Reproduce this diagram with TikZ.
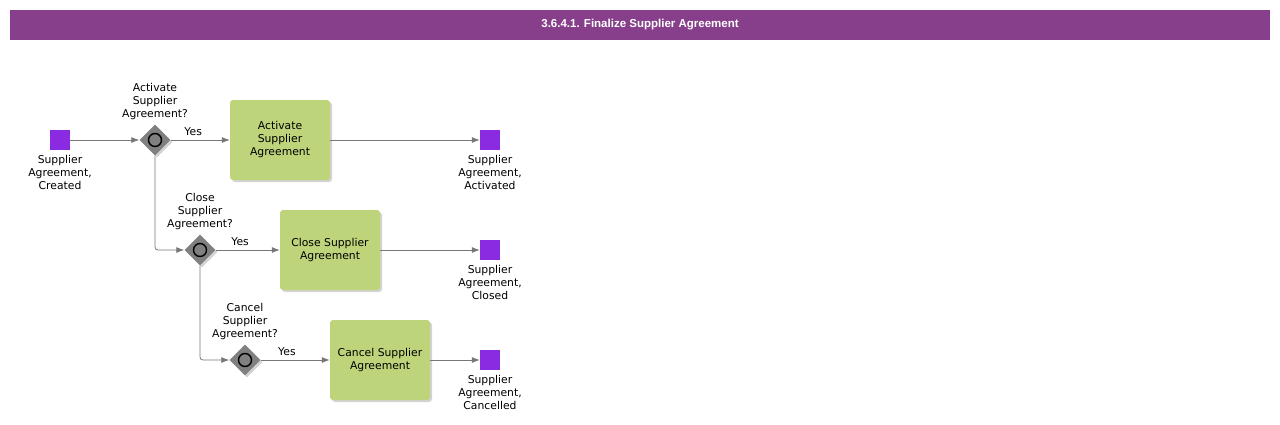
\documentclass[tikz,border=0pt]{standalone}
\usepackage{fontspec}
\setmainfont{DejaVu Sans}
\newfontfamily\titlefont{Liberation Sans}
\usetikzlibrary{arrows.meta,positioning,shapes.geometric,shadows}
\definecolor{barpurple}{HTML}{873F8B}
\definecolor{eventviolet}{HTML}{8A2BE2}
\definecolor{taskgreen}{HTML}{BDD47A}
\definecolor{flowgray}{HTML}{777777}
\definecolor{gategray}{HTML}{808080}
\tikzset{%
  >={Latex[width=6pt,length=8pt]},
  % Specifications for style of nodes:
     eventbox/.style = {rectangle, fill=eventviolet, minimum size=20pt,
                        inner sep=0pt},
   eventlabel/.style = {align=center, inner sep=0pt,
                        font=\fontsize{10.8}{13}\selectfont},
     gatebox/.style = {diamond, fill=gategray, minimum size=31pt,
                        inner sep=0pt,
                        drop shadow={shadow xshift=2pt, shadow yshift=-2pt,
                                     opacity=0.35}},
   gatering/.style = {circle, draw=black, line width=1.4pt, fill=gategray,
                        minimum size=13pt, inner sep=0pt},
     taskbox/.style = {rectangle, rounded corners=3pt, fill=taskgreen,
                        minimum width=100pt, minimum height=80pt,
                        align=center, font=\fontsize{10.8}{13}\selectfont,
                        drop shadow={shadow xshift=2pt, shadow yshift=-2pt,
                                     opacity=0.35}},
        flow/.style = {->, draw=flowgray, line width=0.8pt, rounded corners=3pt},
}
\begin{document}
\begin{tikzpicture}[x=1pt, y=-1pt]
  \useasboundingbox (0,0) rectangle (1280,424);

  % title bar
  \node (title) [fill=barpurple, minimum width=1260pt, minimum height=30pt,
                 text=white, font=\titlefont\bfseries\fontsize{11.5}{13}\selectfont]
                 at (640,25) {3.6.4.1. Finalize Supplier Agreement};

  % Specification of nodes (position, etc.)
  \node (start)    [eventbox] at (60,140)  {};
  \node (startLbl) [eventlabel, below=5pt of start] {Supplier\\Agreement,\\Created};

  \node (gwActivate) [gatebox] at (155,140) {};
  \node (ringActivate) [gatering] at (gwActivate) {};
  \node (qActivate) [eventlabel, above=4pt of gwActivate] {Activate\\Supplier\\Agreement?};
  \node (taskActivate) [taskbox] at (280,140) {Activate\\Supplier\\Agreement};
  \node (endActivated) [eventbox] at (490,140) {};
  \node (endActivatedLbl) [eventlabel, below=5pt of endActivated]
                                                {Supplier\\Agreement,\\Activated};

  \node (gwClose) [gatebox] at (200,250) {};
  \node (ringClose) [gatering] at (gwClose) {};
  \node (qClose) [eventlabel, above=4pt of gwClose] {Close\\Supplier\\Agreement?};
  \node (taskClose) [taskbox] at (330,250) {Close Supplier\\Agreement};
  \node (endClosed) [eventbox] at (490,250) {};
  \node (endClosedLbl) [eventlabel, below=5pt of endClosed]
                                                {Supplier\\Agreement,\\Closed};

  \node (gwCancel) [gatebox] at (245,360) {};
  \node (ringCancel) [gatering] at (gwCancel) {};
  \node (qCancel) [eventlabel, above=4pt of gwCancel] {Cancel\\Supplier\\Agreement?};
  \node (taskCancel) [taskbox] at (380,360) {Cancel Supplier\\Agreement};
  \node (endCancelled) [eventbox] at (490,360) {};
  \node (endCancelledLbl) [eventlabel, below=5pt of endCancelled]
                                                {Supplier\\Agreement,\\Cancelled};

  % Specification of lines between nodes specified above
  \draw[flow] (start) -- (gwActivate);
  \draw[flow] (gwActivate) -- node[pos=0.38, above=4pt, eventlabel] {Yes} (taskActivate);
  \draw[flow] (taskActivate) -- (endActivated);
  \draw[flow] (gwActivate.south) |- (gwClose.west);

  \draw[flow] (gwClose) -- node[pos=0.38, above=4pt, eventlabel] {Yes} (taskClose);
  \draw[flow] (taskClose) -- (endClosed);
  \draw[flow] (gwClose.south) |- (gwCancel.west);

  \draw[flow] (gwCancel) -- node[pos=0.38, above=4pt, eventlabel] {Yes} (taskCancel);
  \draw[flow] (taskCancel) -- (endCancelled);
\end{tikzpicture}
\end{document}
